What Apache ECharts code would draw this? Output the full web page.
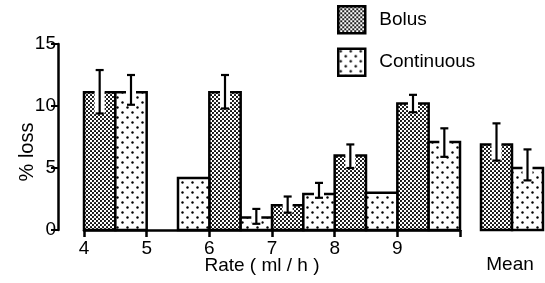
<!DOCTYPE html>
<html>
<head>
<meta charset="utf-8">
<script src="https://cdn.jsdelivr.net/npm/echarts@6/dist/echarts.min.js"></script>
<style>
  html, body { margin: 0; padding: 0; background: #fff; }
  #chart { width: 545px; height: 283px; }
</style>
</head>
<body>
<div id="chart"></div>
<script>
// rate axis ticks
const rateTicks = [4, 5, 6, 7, 8, 9, 10]

// bars: left edge on rate axis (each bar is half a unit wide), % loss, error bar low/high
const bolusLeft = [4, 6, 7, 8, 9]
const bolusVal = [11.1, 11.1, 2.0, 6.0, 10.2]
const bolusLo = [9.4, 9.8, 1.4, 5.0, 9.5]
const bolusHi = [12.9, 12.5, 2.7, 6.9, 10.9]

const contLeft = [4.5, 5.5, 6.5, 7.5, 8.5, 9.5]
const contVal = [11.1, 4.2, 1.0, 2.9, 3.0, 7.1]
const contLo = [10.1, null, 0.5, 2.6, null, 5.9]
const contHi = [12.5, null, 1.7, 3.8, null, 8.2]

// mean panel
const meanVal = [6.9, 5.0]   // bolus, continuous
const meanLo = [5.6, 4.0]
const meanHi = [8.6, 6.5]

const barWidth = 0.5
const font = '"Liberation Sans", Arial, sans-serif'

function makePattern(size, draw) {
  const c = document.createElement('canvas')
  c.width = size
  c.height = size
  const ctx = c.getContext('2d')
  ctx.fillStyle = '#fff'
  ctx.fillRect(0, 0, size, size)
  ctx.fillStyle = '#000'
  draw(ctx)
  return { image: c, repeat: 'repeat' }
}

// fine dense stipple
const bolusFill = makePattern(4, ctx => {
  ctx.beginPath(); ctx.arc(1, 1, 1.05, 0, Math.PI * 2); ctx.fill()
  ctx.beginPath(); ctx.arc(3, 3, 1.05, 0, Math.PI * 2); ctx.fill()
})
// sparse dots
const contFill = makePattern(10, ctx => {
  ctx.beginPath(); ctx.arc(2.5, 2.5, 1.2, 0, Math.PI * 2); ctx.fill()
  ctx.beginPath(); ctx.arc(7.5, 7.5, 1.2, 0, Math.PI * 2); ctx.fill()
})

function toData(left, val, lo, hi) {
  return left.map((x, i) => [x, x + barWidth, val[i], lo[i] == null ? '-' : lo[i], hi[i] == null ? '-' : hi[i]])
}

function renderBar(fill) {
  return function(params, api) {
    const x0 = api.value(0), x1 = api.value(1), v = api.value(2)
    const lo = api.value(3), hi = api.value(4)
    const pb = api.coord([x0, 0])
    const pt = api.coord([x1, v])
    const left = pb[0], bottom = pb[1], right = pt[0], top = pt[1]
    const cx = (left + right) / 2
    const lw = 2.5
    const children = [{
      type: 'rect',
      shape: { x: left, y: top, width: right - left, height: bottom - top },
      style: { fill: fill }
    }]
    const hasErr = !isNaN(lo) && !isNaN(hi)
    if (hasErr) {
      const yLo = api.coord([x0, lo])[1]
      const yHi = api.coord([x0, hi])[1]
      const gap = 5
      if (yLo > top) {
        children.push({
          type: 'rect',
          shape: { x: cx - gap, y: top - 1, width: gap * 2, height: yLo - top + 1 },
          style: { fill: '#fff' }
        })
      }
      children.push({
        type: 'polyline',
        shape: { points: [[cx - gap, top], [left, top], [left, bottom], [right, bottom], [right, top], [cx + gap, top]] },
        style: { stroke: '#000', lineWidth: lw, fill: null }
      })
      const cap = 4
      children.push({
        type: 'polyline',
        shape: { points: [[cx, yLo], [cx, yHi]] },
        style: { stroke: '#000', lineWidth: 2.2 }
      })
      children.push({
        type: 'polyline',
        shape: { points: [[cx - cap, yHi], [cx + cap, yHi]] },
        style: { stroke: '#000', lineWidth: 2.2 }
      })
      children.push({
        type: 'polyline',
        shape: { points: [[cx - cap, yLo], [cx + cap, yLo]] },
        style: { stroke: '#000', lineWidth: 2.2 }
      })
    } else {
      children.push({
        type: 'rect',
        shape: { x: left, y: top, width: right - left, height: bottom - top },
        style: { stroke: '#000', lineWidth: lw, fill: null }
      })
    }
    return { type: 'group', children: children }
  }
}

const chart = echarts.init(document.getElementById('chart'))

chart.setOption({
  animation: false,
  backgroundColor: '#fff',
  textStyle: { fontFamily: font, color: '#000' },
  legend: {
    orient: 'vertical',
    left: 337,
    top: 5,
    padding: 0,
    itemWidth: 27,
    itemHeight: 27,
    itemGap: 13,
    icon: 'rect',
    textStyle: { fontSize: 19, color: '#000', fontFamily: font, padding: [0, 0, 0, 9] },
    data: [
      { name: 'Bolus', itemStyle: { color: bolusFill, borderColor: '#000', borderWidth: 2.5 } },
      { name: 'Continuous', itemStyle: { color: contFill, borderColor: '#000', borderWidth: 2.5 } }
    ]
  },
  grid: [
    { left: 84, right: 85, top: 44, bottom: 53, outerBoundsMode: 'none' },
    { left: 481, right: 2, top: 44, bottom: 53, outerBoundsMode: 'none' }
  ],
  xAxis: [{
    gridIndex: 0,
    type: 'value',
    min: rateTicks[0],
    max: rateTicks[rateTicks.length - 1],
    interval: 1,
    splitLine: { show: false },
    axisLine: { lineStyle: { color: '#000', width: 2.5 } },
    axisTick: { length: 7, lineStyle: { color: '#000', width: 2.5 } },
    axisLabel: {
      color: '#000', fontSize: 19, margin: 9, fontFamily: font,
      formatter: v => (v === 10 ? '' : v)
    },
    name: 'Rate ( ml / h )',
    nameLocation: 'middle',
    nameGap: 26,
    nameMoveOverlap: false,
    nameTextStyle: { fontSize: 19, color: '#000', fontFamily: font, padding: [0, 20, 0, 0] }
  }, {
    gridIndex: 1,
    type: 'value',
    min: 0,
    max: 2,
    splitLine: { show: false },
    axisLine: { show: false },
    axisTick: { show: false },
    axisLabel: { show: false },
    name: 'Mean',
    nameLocation: 'middle',
    nameGap: 25,
    nameMoveOverlap: false,
    nameTextStyle: { fontSize: 19, color: '#000', fontFamily: font, padding: [0, 4, 0, 0] }
  }],
  yAxis: [{
    gridIndex: 0,
    type: 'value',
    min: 0,
    max: 15,
    interval: 5,
    offset: 26,
    splitLine: { show: false },
    axisLine: { show: true, lineStyle: { color: '#000', width: 2.5 } },
    axisTick: { show: true, length: 7, lineStyle: { color: '#000', width: 2 } },
    axisLabel: { color: '#000', fontSize: 19, margin: 2, fontFamily: font },
    name: '% loss',
    nameLocation: 'middle',
    nameGap: 21,
    nameMoveOverlap: false,
    nameRotate: 90,
    nameTextStyle: { fontSize: 20, color: '#000', fontFamily: font, padding: [0, 30, 0, 0] }
  }, {
    gridIndex: 1,
    type: 'value',
    min: 0,
    max: 15,
    show: false
  }],
  series: [{
    name: 'Bolus',
    type: 'custom',
    xAxisIndex: 0,
    yAxisIndex: 0,
    itemStyle: { color: bolusFill },
    renderItem: renderBar(bolusFill),
    data: toData(bolusLeft, bolusVal, bolusLo, bolusHi)
  }, {
    name: 'Continuous',
    type: 'custom',
    xAxisIndex: 0,
    yAxisIndex: 0,
    itemStyle: { color: contFill },
    renderItem: renderBar(contFill),
    data: toData(contLeft, contVal, contLo, contHi)
  }, {
    name: 'Bolus',
    type: 'custom',
    xAxisIndex: 1,
    yAxisIndex: 1,
    itemStyle: { color: bolusFill },
    renderItem: renderBar(bolusFill),
    data: [[0, 1, meanVal[0], meanLo[0], meanHi[0]]]
  }, {
    name: 'Continuous',
    type: 'custom',
    xAxisIndex: 1,
    yAxisIndex: 1,
    itemStyle: { color: contFill },
    renderItem: renderBar(contFill),
    data: [[1, 2, meanVal[1], meanLo[1], meanHi[1]]]
  }]
})
</script>
</body>
</html>
